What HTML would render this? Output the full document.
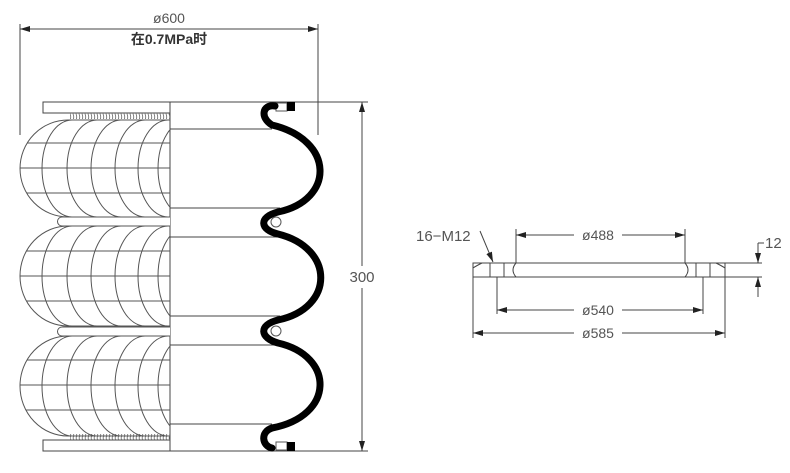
<!DOCTYPE html>
<html><head><meta charset="utf-8"><style>
html,body{margin:0;padding:0;background:#fff;}
svg{display:block;}
text{font-family:"Liberation Sans","Noto Sans CJK SC",sans-serif;fill:#555;}
</style></head><body>
<svg width="790" height="473" viewBox="0 0 790 473" xmlns="http://www.w3.org/2000/svg">
<defs>
<pattern id="coil" x="0" y="0" width="3" height="6" patternUnits="userSpaceOnUse">
<path d="M1,0 Q2.5,3 1,6" fill="none" stroke="#666" stroke-width="0.8"/>
</pattern>
<marker id="ar" viewBox="0 0 10 6" refX="10" refY="3" markerWidth="10" markerHeight="6" orient="auto-start-reverse" markerUnits="userSpaceOnUse">
<path d="M0,0 L10,3 L0,6 z" fill="#222"/>
</marker>
<clipPath id="c1"><path d="M170,120 L68,120 A48,48.5 0 0 0 68,217 L170,217 Z"/></clipPath>
<clipPath id="c2"><path d="M170,226 L68,226 A48,50 0 0 0 68,326 L170,326 Z"/></clipPath>
<clipPath id="c3"><path d="M170,336 L68,336 A48,50 0 0 0 68,436 L170,436 Z"/></clipPath>
</defs>
<g stroke="#444" stroke-width="1" fill="none">
<line x1="20" y1="29" x2="318" y2="29" marker-start="url(#ar)" marker-end="url(#ar)"/>
<line x1="20" y1="24" x2="20" y2="135"/>
<line x1="318" y1="24" x2="318" y2="135"/>
<line x1="362" y1="102" x2="362" y2="266" marker-start="url(#ar)"/>
<line x1="362" y1="288" x2="362" y2="451" marker-end="url(#ar)"/>
<line x1="300" y1="102" x2="368" y2="102"/>
<line x1="170" y1="451" x2="368" y2="451"/>
<rect x="43" y="102" width="127" height="11"/>
<rect x="43" y="440" width="127" height="11"/>
<line x1="170" y1="102" x2="170" y2="451"/>
<line x1="170" y1="102" x2="300" y2="102"/>
<line x1="170" y1="129" x2="272" y2="129"/>
<line x1="170" y1="208" x2="280" y2="208"/>
<line x1="170" y1="237" x2="280" y2="237"/>
<line x1="170" y1="316" x2="280" y2="316"/>
<line x1="170" y1="345" x2="280" y2="345"/>
<line x1="170" y1="424" x2="272" y2="424"/>
</g>
<rect x="70" y="113" width="100" height="6" fill="url(#coil)"/>
<rect x="70" y="434" width="100" height="6" fill="url(#coil)"/>
<g stroke="#555" stroke-width="1" fill="none">
<path d="M170,120 L68,120 A48,48.5 0 0 0 68,217 L170,217"/>
<g clip-path="url(#c1)">
<line x1="20" y1="143" x2="170" y2="143"/><line x1="20" y1="168" x2="170" y2="168"/><line x1="20" y1="193" x2="170" y2="193"/>
<path d="M72,120 A30,48.5 0 0 0 72,217"/><path d="M97,120 A30,48.5 0 0 0 97,217"/><path d="M121,120 A30,48.5 0 0 0 121,217"/><path d="M145,120 A30,48.5 0 0 0 145,217"/><path d="M168,120 A30,48.5 0 0 0 168,217"/><path d="M188,120 A30,48.5 0 0 0 188,217"/>
</g>
<path d="M170,226 L68,226 A48,50 0 0 0 68,326 L170,326"/>
<g clip-path="url(#c2)">
<line x1="20" y1="251" x2="170" y2="251"/><line x1="20" y1="276" x2="170" y2="276"/><line x1="20" y1="301" x2="170" y2="301"/>
<path d="M72,226 A30,50 0 0 0 72,326"/><path d="M97,226 A30,50 0 0 0 97,326"/><path d="M121,226 A30,50 0 0 0 121,326"/><path d="M145,226 A30,50 0 0 0 145,326"/><path d="M168,226 A30,50 0 0 0 168,326"/><path d="M188,226 A30,50 0 0 0 188,326"/>
</g>
<path d="M170,336 L68,336 A48,50 0 0 0 68,436 L170,436"/>
<g clip-path="url(#c3)">
<line x1="20" y1="360" x2="170" y2="360"/><line x1="20" y1="385" x2="170" y2="385"/><line x1="20" y1="410" x2="170" y2="410"/>
<path d="M72,336 A30,50 0 0 0 72,436"/><path d="M97,336 A30,50 0 0 0 97,436"/><path d="M121,336 A30,50 0 0 0 121,436"/><path d="M145,336 A30,50 0 0 0 145,436"/><path d="M168,336 A30,50 0 0 0 168,436"/><path d="M188,336 A30,50 0 0 0 188,436"/>
</g>
<path d="M170,217 L62,217 A4.5,4.5 0 0 0 62,226 L170,226" fill="#fff"/>
<path d="M170,327 L62,327 A4.5,4.5 0 0 0 62,336 L170,336" fill="#fff"/>
<circle cx="276" cy="222" r="5"/>
<circle cx="276" cy="331" r="5"/>
<rect x="276" y="103" width="11" height="8"/>
<rect x="276" y="442" width="11" height="8"/>
</g>
<path d="M275,106 C262,104 260,118 272,125 C335,140 335,200 278,212 C258,217 260,230 278,234 C335,248 335,308 278,320 C258,325 260,338 278,343 C335,356 335,416 272,428 C260,432 262,446 272,448" fill="none" stroke="#000" stroke-width="7" stroke-linecap="round"/>
<rect x="287" y="102" width="8" height="9" fill="#000"/>
<rect x="287" y="442" width="8" height="9" fill="#000"/>
<text x="169" y="23" font-size="14" text-anchor="middle">ø600</text>
<text x="169" y="44" font-size="14" text-anchor="middle" font-weight="bold" style="fill:#333">在0.7MPa时</text>
<text x="362" y="282" font-size="15" text-anchor="middle">300</text>
<g stroke="#444" stroke-width="1" fill="none">
<path d="M473,263 L725,263 L725,277 L473,277 Z"/>
<path d="M482,263 Q476,266 473,268"/><path d="M716,263 Q722,266 725,268"/>
<line x1="490" y1="263" x2="490" y2="277"/><line x1="504" y1="263" x2="504" y2="277"/>
<line x1="696" y1="263" x2="696" y2="277"/><line x1="710" y1="263" x2="710" y2="277"/>
<path d="M516,263 Q510,270 516,277"/><path d="M685,263 Q691,270 685,277"/>
<line x1="516" y1="229" x2="516" y2="263"/><line x1="685" y1="229" x2="685" y2="263"/>
<line x1="516" y1="235" x2="574" y2="235" marker-start="url(#ar)"/>
<line x1="622" y1="235" x2="685" y2="235" marker-end="url(#ar)"/>
<line x1="497" y1="277" x2="497" y2="314"/><line x1="703" y1="277" x2="703" y2="314"/>
<line x1="497" y1="310" x2="574" y2="310" marker-start="url(#ar)"/>
<line x1="622" y1="310" x2="703" y2="310" marker-end="url(#ar)"/>
<line x1="473" y1="277" x2="473" y2="338"/><line x1="725" y1="277" x2="725" y2="338"/>
<line x1="473" y1="333" x2="574" y2="333" marker-start="url(#ar)"/>
<line x1="622" y1="333" x2="725" y2="333" marker-end="url(#ar)"/>
<line x1="725" y1="263" x2="762" y2="263"/><line x1="725" y1="277" x2="762" y2="277"/>
<line x1="758" y1="243" x2="758" y2="263" marker-end="url(#ar)"/>
<line x1="758" y1="297" x2="758" y2="277" marker-end="url(#ar)"/>
<line x1="758" y1="243" x2="764" y2="243"/>
<line x1="480" y1="231" x2="493" y2="262" marker-end="url(#ar)"/>
</g>
<text x="416" y="241" font-size="15">16−M12</text>
<text x="598" y="240" font-size="14" text-anchor="middle">ø488</text>
<text x="598" y="315" font-size="14" text-anchor="middle">ø540</text>
<text x="598" y="338" font-size="14" text-anchor="middle">ø585</text>
<text x="765" y="248" font-size="15">12</text>
</svg>
</body></html>
